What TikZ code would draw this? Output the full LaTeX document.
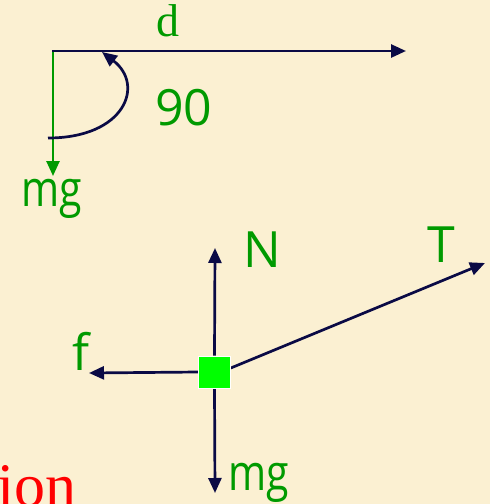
\documentclass[tikz,border=0pt]{standalone}
\usepackage{fontspec}
\setmainfont{Liberation Serif}
\newfontfamily\lblfont{Open Sans}
\usetikzlibrary{arrows.meta}
\definecolor{bgcream}{HTML}{FBF0D2}
\definecolor{navy}{HTML}{0A0A45}
\definecolor{lblgreen}{HTML}{009A00}
\definecolor{boxgreen}{HTML}{00FF00}
\begin{document}
\begin{tikzpicture}[x=1pt,y=-1pt,
  force/.style={draw=navy,line width=2.7pt,-{Triangle[length=15pt,width=13pt]}},
  gforce/.style={draw=lblgreen,line width=2.5pt,-{Triangle[length=15pt,width=13pt]}},
  lbl/.style={text=lblgreen,font=\lblfont\fontsize{50}{50}\selectfont,inner sep=0pt,anchor=base west},
  serifl/.style={text=lblgreen,font=\fontsize{46}{46}\selectfont,inner sep=0pt,anchor=base},
  redtxt/.style={text=red,font=\fontsize{62}{62}\selectfont,inner sep=0pt,anchor=base east},
  block/.style={fill=boxgreen,draw=white,line width=0.6pt,minimum size=32pt,inner sep=0pt}
]
\fill[bgcream] (0,0) rectangle (490,504);
\useasboundingbox (0,0) rectangle (490,504);
% top diagram
\coordinate (O) at (52,51);
\coordinate (dend) at (406,51);
\coordinate (gstart) at (53,51);
\coordinate (gend) at (53,176);
\coordinate (arcA) at (48,138);
\coordinate (arcB) at (102,52);
\draw[gforce] (gstart) -- (gend);
\draw[force] (O) -- (dend);
\draw[force] (arcA) .. controls (125,138) and (145,85) .. (arcB);
\node[serifl] (dlbl) at (168,36) {d};
\node[lbl] (ninety) at (155,125) {90};
\node[lbl] (mgtop) at (21,206) {\scalebox{0.82}[1]{mg}};
% bottom diagram
\coordinate (Ntip) at (215,248);
\coordinate (mgtip) at (215,493);
\coordinate (ftip) at (89,373);
\coordinate (Ttip) at (485,263);
\node[block] (box) at (214.5,372) {};
\draw[force] (box.north) -- (Ntip);
\draw[force] (box.south) -- (mgtip);
\draw[force] (box.west) -- (ftip);
\draw[force] ([yshift=4pt]box.east) -- (Ttip);
\node[block] at (box.center) {};
\node[lbl] (Nlbl) at (243,267) {N};
\node[lbl] (Tlbl) at (427,262) {T};
\node[lbl] (flbl) at (72,370) {f};
\node[lbl] (mgbot) at (228,490) {\scalebox{0.82}[1]{mg}};
\node[redtxt] (ion) at (77,506) {ion};
\end{tikzpicture}
\end{document}
